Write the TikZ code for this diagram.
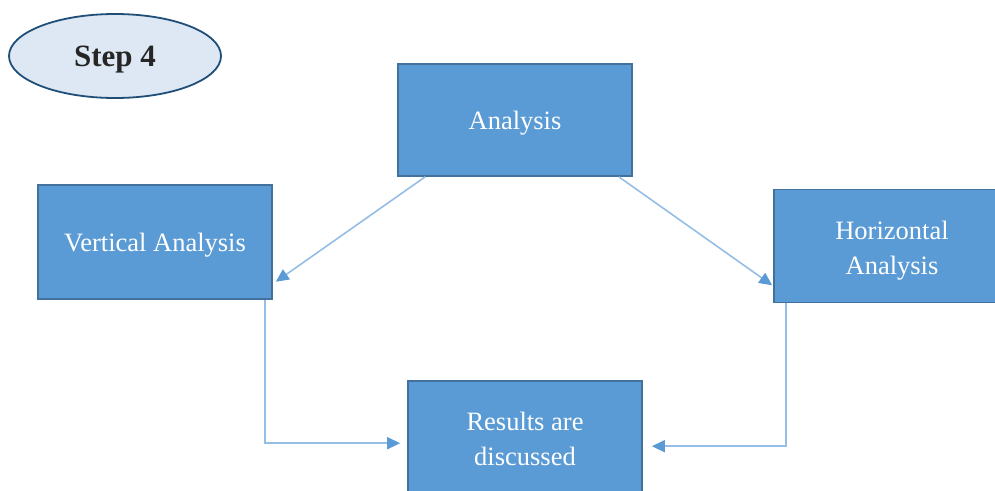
\documentclass[tikz,border=0pt]{standalone}
\usepackage{fontspec}
\setmainfont{Liberation Serif}
\usetikzlibrary{arrows.meta,shapes.geometric}
\definecolor{boxfill}{HTML}{5B9BD5}
\definecolor{boxline}{HTML}{41719C}
\definecolor{linkline}{HTML}{95BEE4}
\definecolor{ovalfill}{HTML}{DEE8F4}
\definecolor{ovalline}{HTML}{1F4E79}
\tikzset{
  flowbox/.style={rectangle, fill=boxfill, draw=boxline, line width=1.6pt,
    inner sep=0pt, text=white, align=center,
    font=\fontsize{26.5}{35}\selectfont},
  twoline/.style={text height=63pt, text depth=6pt},
  link/.style={draw=linkline, line width=1.6pt,
    -{Triangle[length=13pt,width=12pt,color=boxfill,fill=boxfill]}},
}
\begin{document}
\begin{tikzpicture}[x=1pt,y=-1pt]
\useasboundingbox (0,0) rectangle (995,490);
\clip (0,0) rectangle (995,490);
% step label
\node[ellipse, draw=ovalline, fill=ovalfill, line width=1.8pt,
  minimum width=212pt, minimum height=84pt, inner sep=0pt, text depth=0pt,
  font=\fontsize{31}{36}\selectfont\bfseries, text={black!85}]
  (st) at (115,56) {Step 4};
% boxes
\node[flowbox, minimum width=234pt, minimum height=112pt, text depth=0pt] (an) at (515,120) {Analysis};
\node[flowbox, minimum width=234pt, minimum height=114pt, text depth=0pt] (va) at (155,242) {Vertical Analysis};
\node[flowbox, twoline, minimum width=236pt, minimum height=113pt] (hz) at (892,246) {Horizontal\\Analysis};
\node[flowbox, twoline, minimum width=234pt, minimum height=112pt] (rs) at (525,437) {Results are\\discussed};
% connectors
\draw[link] ([xshift=28pt]an.south west) -- ([xshift=3pt,yshift=18pt]va.south east);
\draw[link] ([xshift=-14pt]an.south east) -- ([xshift=-1pt,yshift=18pt]hz.south west);
\draw[link] ([xshift=-8pt]va.south east) |- ([xshift=-7pt,yshift=-63pt]rs.north west);
\draw[link] ([xshift=13pt]hz.south west) |- ([xshift=9pt,yshift=-66pt]rs.north east);
\end{tikzpicture}
\end{document}
